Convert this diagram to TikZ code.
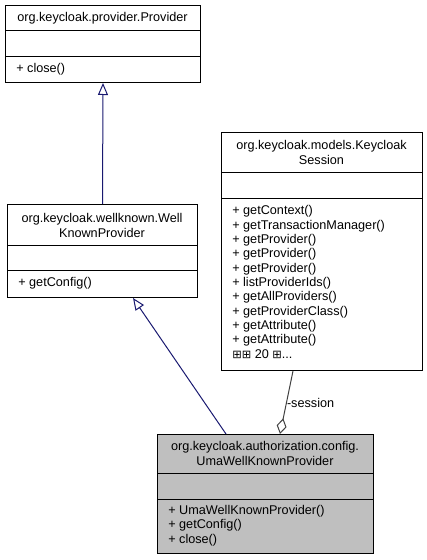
\documentclass[tikz,border=0pt]{standalone}
\usepackage{fontspec}
\setmainfont{Liberation Sans}
\newfontfamily\djv{DejaVu Sans}
\usetikzlibrary{arrows.meta,calc}
\definecolor{inhblue}{HTML}{191970}
\definecolor{usegray}{HTML}{404040}
\definecolor{umafill}{HTML}{BFBFBF}
\begin{document}
\begin{tikzpicture}[x=0.75pt,y=-0.75pt,
  box/.style={draw=black, line width=0.75pt, fill=white, anchor=north west, inner sep=0pt},
  ttl/.style={font=\fontsize{9.5}{11.25}\selectfont, inner sep=0pt, align=center},
  mem/.style={font=\fontsize{9.5}{10.75}\selectfont, inner sep=0pt, align=left, anchor=west},
  divider/.style={draw=black, line width=0.75pt},
  inh/.style={draw=inhblue, line width=0.75pt, -{Triangle[open, length=9pt, width=7.5pt]}},
  use/.style={draw=usegray, line width=0.75pt, {Diamond[open, length=12pt, width=7.5pt]}-},
  lbl/.style={font=\fontsize{9.5}{11}\selectfont, inner sep=0pt, anchor=west}
]
\useasboundingbox (0,0) rectangle (427,560);

% Provider
\node[box, minimum width=146.25pt, minimum height=57.75pt] (prov) at (5,5) {};
\draw[divider] ($(prov.north west)+(0,26)$) -- ($(prov.north east)+(0,26)$);
\draw[divider] ($(prov.north west)+(0,52)$) -- ($(prov.north east)+(0,52)$);
\node[ttl] (provt) at (102.5,18) {org.keycloak.provider.Provider};
\node[mem] (provm) at (16,69.5) {+ close()};

% WellKnownProvider
\node[box, minimum width=142.5pt, minimum height=69.75pt] (wk) at (7,204) {};
\draw[divider] ($(wk.north west)+(0,41)$) -- ($(wk.north east)+(0,41)$);
\draw[divider] ($(wk.north west)+(0,66)$) -- ($(wk.north east)+(0,66)$);
\node[ttl] (wkt) at (102,225) {org.keycloak.wellknown.Well\\KnownProvider};
\node[mem] (wkm) at (18,283.5) {+ getConfig()};

% KeycloakSession
\node[box, minimum width=150.75pt, minimum height=178.5pt] (ks) at (221,132) {};
\draw[divider] ($(ks.north west)+(0,40)$) -- ($(ks.north east)+(0,40)$);
\draw[divider] ($(ks.north west)+(0,66)$) -- ($(ks.north east)+(0,66)$);
\node[ttl] (kst) at (321.5,152) {org.keycloak.models.Keycloak\\Session};
\node[mem] (ksm) at (232,282) {+ getContext()\\+ getTransactionManager()\\+ getProvider()\\+ getProvider()\\+ getProvider()\\+ listProviderIds()\\+ getAllProviders()\\+ getProviderClass()\\+ getAttribute()\\+ getAttribute()\\{\djv\fontsize{8.5}{10}\selectfont ⊞⊞} 20 {\djv\fontsize{8.5}{10}\selectfont ⊞}...};

% UmaWellKnownProvider
\node[box, fill=umafill, minimum width=162pt, minimum height=89.25pt] (uma) at (157,434) {};
\draw[divider] ($(uma.north west)+(0,39)$) -- ($(uma.north east)+(0,39)$);
\draw[divider] ($(uma.north west)+(0,65)$) -- ($(uma.north east)+(0,65)$);
\node[ttl] (umat) at (265,453.5) {org.keycloak.authorization.config.\\UmaWellKnownProvider};
\node[mem] (umam) at (168,525.5) {+ UmaWellKnownProvider()\\+ getConfig()\\+ close()};

% connectors
\draw[inh] (wk.north) -- (prov.south);
\draw[inh] ($(uma.north west)+(69,0)$) -- ($(wk.south west)+(126,0)$);
\draw[use] ($(uma.north west)+(123,0)$) -- ($(ks.south west)+(72,0)$) node[lbl, pos=0.5] (sessl) at (290,400) {-session};
\end{tikzpicture}
\end{document}
